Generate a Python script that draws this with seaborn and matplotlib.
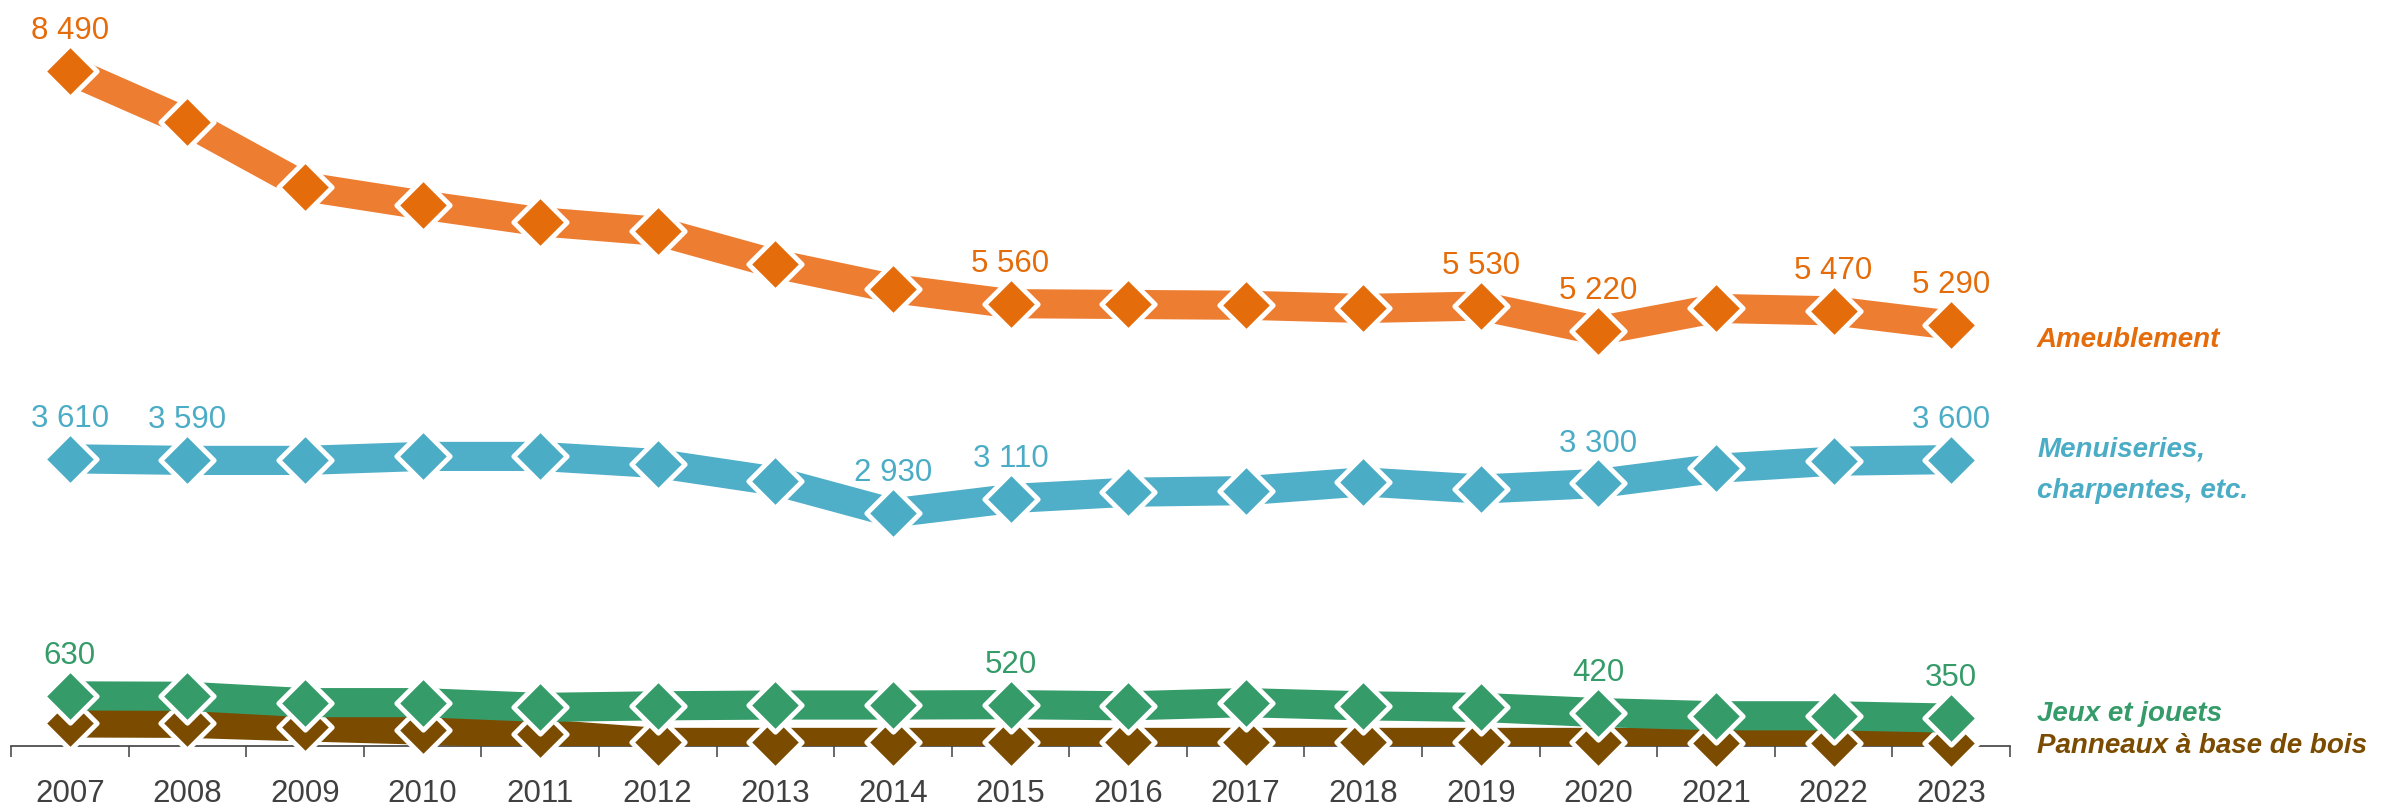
import matplotlib
matplotlib.use("Agg")
import matplotlib.pyplot as plt
import seaborn as sns

# values
years = list(range(2007, 2024))
ameublement = [8490, 7840, 7030, 6800, 6590, 6470, 6060, 5750, 5560, 5550, 5540, 5500, 5530, 5220, 5500, 5470, 5290]
menuiseries = [3610, 3590, 3590, 3640, 3640, 3550, 3330, 2930, 3110, 3190, 3210, 3320, 3230, 3300, 3490, 3580, 3600]
jeux = [630, 625, 545, 545, 485, 505, 515, 515, 520, 505, 545, 505, 485, 420, 380, 380, 350]
panneaux = [290, 285, 240, 200, 155, 45, 45, 45, 45, 45, 45, 45, 45, 45, 40, 40, 35]

# years whose value is written on the chart
lab_ameublement = [2007, 2015, 2019, 2020, 2022, 2023]
lab_menuiseries = [2007, 2008, 2014, 2015, 2020, 2023]
lab_jeux = [2007, 2015, 2020, 2023]
lab_panneaux = []

series_names = ["Panneaux à base de bois", "Jeux et jouets",
                "Menuiseries,\ncharpentes, etc.", "Ameublement"]

sns.set_style("white")
plt.rcParams["font.family"] = ["Liberation Sans", "DejaVu Sans"]

fig = plt.figure(figsize=(23.92, 8.08), dpi=100)
ax = fig.add_axes([11 / 2392, 62 / 808, 1999 / 2392, 716 / 808])

# (values, labelled years, line colour, marker colour, name, name position)
series = [
    (panneaux, lab_panneaux, "#7B4C00", "#7B4C00", series_names[0], -88),
    (jeux, lab_jeux, "#359B69", "#359B69", series_names[1], 314),
    (menuiseries, lab_menuiseries, "#4FAEC8", "#4BACC6", series_names[2], 3643),
    (ameublement, lab_ameublement, "#ED7D31", "#E46C0A", series_names[3], 5013),
]

z = 3
for vals, labs, lc, mc, name, ny in series:
    sns.lineplot(x=years, y=vals, ax=ax, color=lc, linewidth=21, zorder=z,
                 solid_capstyle="butt")
    sns.scatterplot(x=years, y=vals, ax=ax, marker="D", s=740, color=mc,
                    edgecolor="white", linewidth=3.5, zorder=z + 1, clip_on=False)
    for yr in labs:
        v = vals[years.index(yr)]
        ax.annotate(f"{v:,}".replace(",", " "), (yr, v), xytext=(0, 23),
                    textcoords="offset points", ha="center", va="baseline",
                    fontsize=22.5, color=mc, zorder=20, annotation_clip=False)
    z += 2

# series names on the right
for vals, labs, lc, mc, name, ny in series:
    lines = name.split("\n")
    for i, part in enumerate(lines):
        ax.text(2023.73, ny - i * 527, part, color=mc, fontsize=20,
                fontweight="bold", fontstyle="italic", ha="left",
                va="baseline", clip_on=False)

ax.set_xlim(2006.5, 2023.5)
ax.set_ylim(0, 9000)
ax.set_xlabel("")
ax.set_ylabel("")
ax.set_yticks([])

# ticks between categories, labels on the categories
ax.set_xticks([y - 0.5 for y in years] + [2023.5])
ax.set_xticklabels([])
ax.set_xticks(years, minor=True)
ax.set_xticklabels([str(y) for y in years], minor=True)
ax.tick_params(axis="x", which="major", direction="out", length=8, width=1.1,
               color="#404040", bottom=True)
ax.tick_params(axis="x", which="minor", length=0, pad=24, labelsize=22.5,
               labelcolor="#404040")

for side in ["top", "left", "right"]:
    ax.spines[side].set_visible(False)
ax.spines["bottom"].set_color("#404040")
ax.spines["bottom"].set_linewidth(1.2)
ax.spines["bottom"].set_zorder(2)

fig.savefig("out.png", dpi=100)
